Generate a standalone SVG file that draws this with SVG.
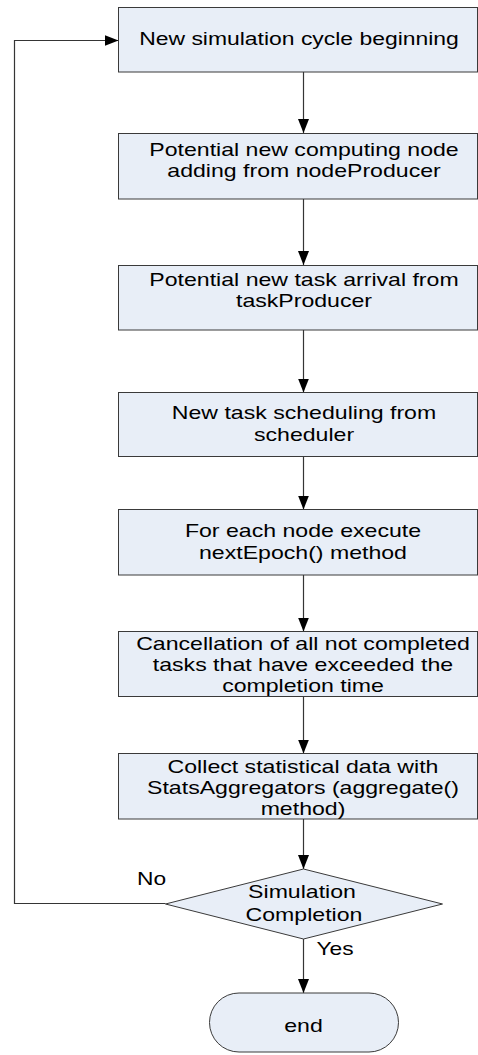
<svg xmlns="http://www.w3.org/2000/svg" width="478" height="1055" viewBox="0 0 478 1055">
  <style>
    .box { fill: #E8EEF7; stroke: #3A3A3A; stroke-width: 1; }
    .t { font-family: "Liberation Sans", Arial, sans-serif; font-size: 17.5px; fill: #000; text-anchor: middle; }
    .lbl { font-family: "Liberation Sans", Arial, sans-serif; font-size: 17.5px; fill: #000; }
    .conn { fill: none; stroke: #353535; stroke-width: 1.2; }
  </style>
  <defs>
    <marker id="arrow" viewBox="0 0 14 11" refX="14" refY="5.5" markerWidth="14" markerHeight="11" markerUnits="userSpaceOnUse" orient="auto">
      <path d="M0,0 L14,5.5 L0,11 Z" fill="#000"/>
    </marker>
  </defs>

  <!-- connectors -->
  <g id="connectors">
    <line class="conn" x1="303.5" y1="72" x2="303.5" y2="133" marker-end="url(#arrow)"/>
    <line class="conn" x1="303.5" y1="199" x2="303.5" y2="265" marker-end="url(#arrow)"/>
    <line class="conn" x1="303.5" y1="330" x2="303.5" y2="392.5" marker-end="url(#arrow)"/>
    <line class="conn" x1="303.5" y1="456.5" x2="303.5" y2="509.5" marker-end="url(#arrow)"/>
    <line class="conn" x1="303.5" y1="575" x2="303.5" y2="631.5" marker-end="url(#arrow)"/>
    <line class="conn" x1="303.5" y1="696.5" x2="303.5" y2="753.5" marker-end="url(#arrow)"/>
    <line class="conn" x1="303.5" y1="819" x2="303.5" y2="869" marker-end="url(#arrow)"/>
    <line class="conn" x1="303.5" y1="939" x2="303.5" y2="993" marker-end="url(#arrow)"/>
    <!-- "No" branch loops back to the start of the cycle -->
    <polyline class="conn" points="165.5,903.5 14.5,903.5 14.5,40.5 118.5,40.5" marker-end="url(#arrow)"/>
    <text class="lbl" transform="translate(137 885) scale(1.3 1)">No</text>
    <text class="lbl" transform="translate(316.5 954.5) scale(1.3 1)">Yes</text>
  </g>

  <g id="cycle-start">
    <rect class="box" x="118.5" y="7.5" width="359" height="64.5"/>
    <text class="t" transform="translate(299 45) scale(1.31 1)">New simulation cycle beginning</text>
  </g>

  <g id="node-producer">
    <rect class="box" x="118.5" y="133.5" width="359" height="65.5"/>
    <text class="t" transform="translate(304 156) scale(1.32 1)">Potential new computing node</text>
    <text class="t" transform="translate(304 177) scale(1.32 1)">adding from nodeProducer</text>
  </g>

  <g id="task-producer">
    <rect class="box" x="118.5" y="265.5" width="359" height="64.5"/>
    <text class="t" transform="translate(304 286) scale(1.32 1)">Potential new task arrival from</text>
    <text class="t" transform="translate(304 307) scale(1.32 1)">taskProducer</text>
  </g>

  <g id="scheduler">
    <rect class="box" x="118.5" y="392.5" width="359" height="64"/>
    <text class="t" transform="translate(304 419) scale(1.32 1)">New task scheduling from</text>
    <text class="t" transform="translate(304 441) scale(1.32 1)">scheduler</text>
  </g>

  <g id="next-epoch">
    <rect class="box" x="118.5" y="509.5" width="359" height="65.5"/>
    <text class="t" transform="translate(303 537) scale(1.32 1)">For each node  execute</text>
    <text class="t" transform="translate(303 559) scale(1.32 1)">nextEpoch() method</text>
  </g>

  <g id="cancellation">
    <rect class="box" x="118.5" y="631.5" width="359" height="65"/>
    <text class="t" transform="translate(303 650) scale(1.32 1)">Cancellation of all not completed</text>
    <text class="t" transform="translate(303 671) scale(1.32 1)">tasks that have exceeded the</text>
    <text class="t" transform="translate(303 692) scale(1.32 1)">completion time</text>
  </g>

  <g id="stats">
    <rect class="box" x="118.5" y="753.5" width="359" height="65.5"/>
    <text class="t" transform="translate(303 772.5) scale(1.32 1)">Collect statistical data with</text>
    <text class="t" transform="translate(303 794) scale(1.32 1)">StatsAggregators (aggregate()</text>
    <text class="t" transform="translate(303 815) scale(1.32 1)">method)</text>
  </g>

  <g id="completion-check">
    <polygon class="box" points="303.5,869 442.5,904 303.5,939 165.5,904"/>
    <text class="t" transform="translate(302 898) scale(1.32 1)">Simulation</text>
    <text class="t" transform="translate(304 920.5) scale(1.32 1)">Completion</text>
  </g>

  <g id="end">
    <rect class="box" x="209.5" y="993" width="189" height="59" rx="29.5" ry="29.5"/>
    <text class="t" transform="translate(303.5 1032) scale(1.32 1)">end</text>
  </g>
</svg>
